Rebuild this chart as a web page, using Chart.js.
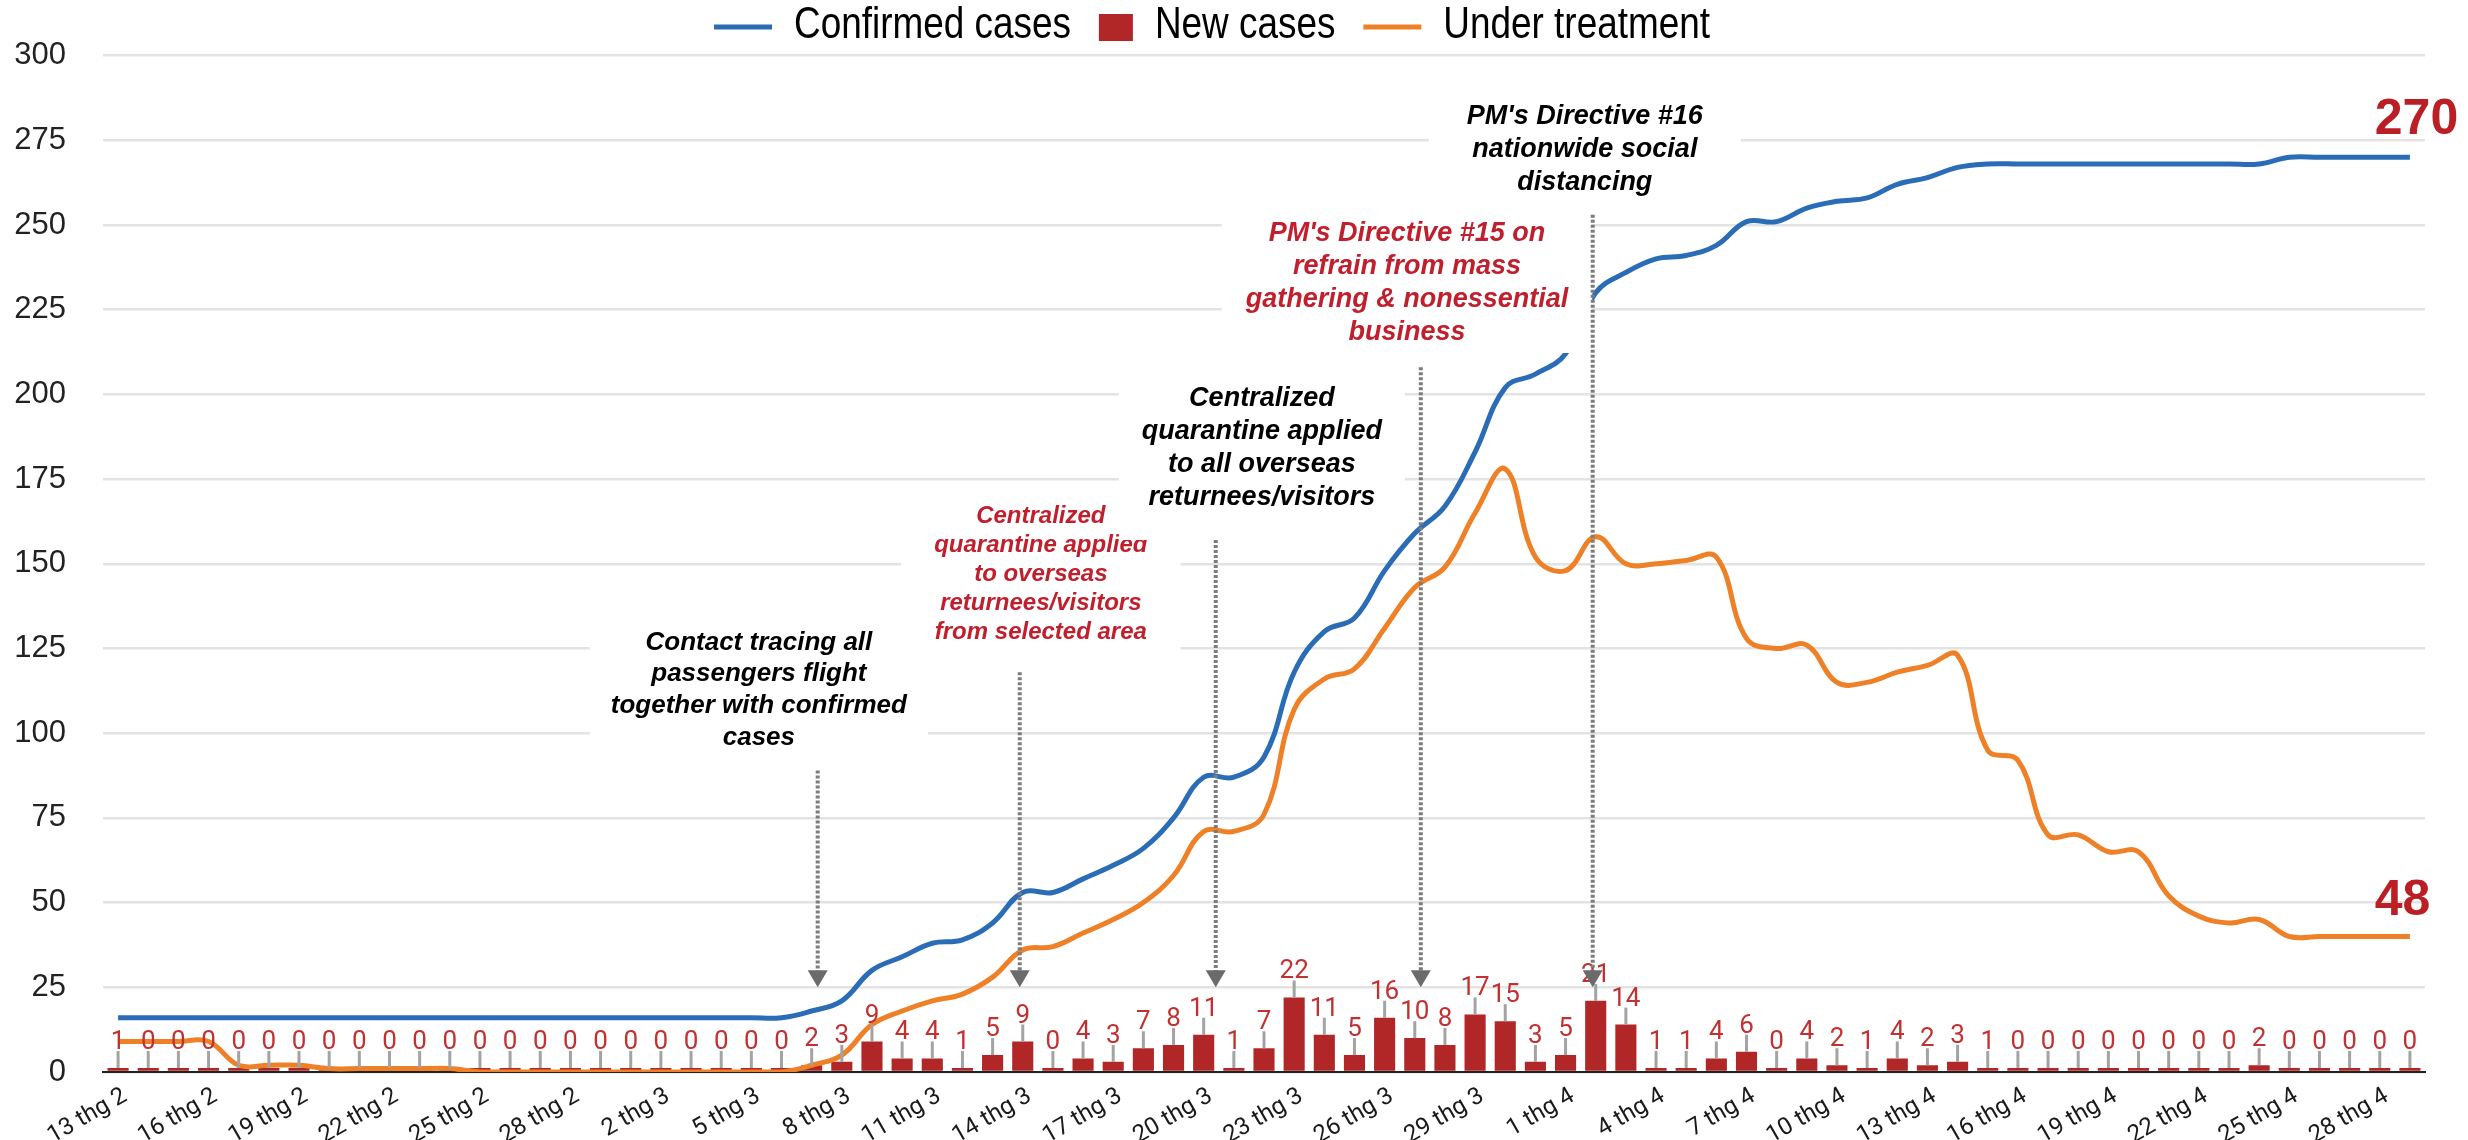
<!DOCTYPE html>
<html>
<head>
<meta charset="utf-8">
<script src="https://cdn.jsdelivr.net/npm/chart.js@4.4.1/dist/chart.umd.min.js"></script>
<style>
  html, body { margin: 0; padding: 0; background: #fff; }
</style>
</head>
<body>
<canvas id="myChart" width="2468" height="1140"></canvas>
<script>
// one entry per day, 13 Feb -> 29 Apr 2020
const days = [
  '13 thg 2', '14 thg 2', '15 thg 2', '16 thg 2', '17 thg 2', '18 thg 2', '19 thg 2', '20 thg 2', '21 thg 2',
  '22 thg 2', '23 thg 2', '24 thg 2', '25 thg 2', '26 thg 2', '27 thg 2', '28 thg 2', '29 thg 2',
  '1 thg 3', '2 thg 3', '3 thg 3', '4 thg 3', '5 thg 3', '6 thg 3', '7 thg 3', '8 thg 3', '9 thg 3', '10 thg 3',
  '11 thg 3', '12 thg 3', '13 thg 3', '14 thg 3', '15 thg 3', '16 thg 3', '17 thg 3', '18 thg 3', '19 thg 3',
  '20 thg 3', '21 thg 3', '22 thg 3', '23 thg 3', '24 thg 3', '25 thg 3', '26 thg 3', '27 thg 3', '28 thg 3',
  '29 thg 3', '30 thg 3', '31 thg 3',
  '1 thg 4', '2 thg 4', '3 thg 4', '4 thg 4', '5 thg 4', '6 thg 4', '7 thg 4', '8 thg 4', '9 thg 4', '10 thg 4',
  '11 thg 4', '12 thg 4', '13 thg 4', '14 thg 4', '15 thg 4', '16 thg 4', '17 thg 4', '18 thg 4', '19 thg 4',
  '20 thg 4', '21 thg 4', '22 thg 4', '23 thg 4', '24 thg 4', '25 thg 4', '26 thg 4', '27 thg 4', '28 thg 4',
  '29 thg 4',
]

const confirmed = [
  16, 16, 16, 16, 16, 16, 16, 16, 16, 16, 16, 16, 16, 16, 16, 16, 16,
  16, 16, 16, 16, 16, 16, 18, 21, 30, 34, 38, 39, 44, 53, 53, 57, 61, 66, 75, 87, 87, 93, 118, 130, 134,
  148, 159, 167, 183, 202, 206,
  212, 230, 236, 240, 241, 244, 251, 251, 255, 257, 258, 262, 264, 267, 268, 268, 268, 268, 268, 268,
  268, 268, 268, 268, 270, 270, 270, 270, 270,
]

const newCases = [
  1, 0, 0, 0, 0, 0, 0, 0, 0, 0, 0, 0, 0, 0, 0, 0, 0,
  0, 0, 0, 0, 0, 0, 2, 3, 9, 4, 4, 1, 5, 9, 0, 4, 3, 7, 8, 11, 1, 7, 22, 11, 5, 16, 10, 8, 17, 15, 3,
  5, 21, 14, 1, 1, 4, 6, 0, 4, 2, 1, 4, 2, 3, 1, 0, 0, 0, 0, 0, 0, 0, 0, 2, 0, 0, 0, 0, 0,
]

const treating = [
  9, 9, 9, 9, 2, 2, 2, 1, 1, 1, 1, 1, 0, 0, 0, 0, 0,
  0, 0, 0, 0, 0, 0, 2, 5, 14, 18, 21, 23, 28, 36, 37, 41, 45, 50, 58, 71, 71, 76, 107, 116, 119,
  131, 143, 149, 165, 178, 152,
  148, 158, 150, 150, 151, 152, 128, 125, 126, 115, 115, 118, 120, 123, 95, 92, 70, 70, 65, 65,
  52, 46, 44, 45, 40, 40, 40, 40, 40,
]

const yTicks = [0, 25, 50, 75, 100, 125, 150, 175, 200, 225, 250, 275, 300]

const BLUE = '#2b6cb6'
const RED = '#b12626'
const ORANGE = '#ee8128'
const TEXT_RED = '#c0202d'

// text notes: at = category index of the centre, y = value of the first line
const notes = [
  { at: 21.25, y: 126.8, lh: 31.7, size: 26, color: '#000', pad: [14, 21, 40, 21],
    lines: ['Contact tracing all', 'passengers flight', 'together with confirmed', 'cases'] },
  { at: 30.6, y: 164, lh: 29, size: 24, color: TEXT_RED, pad: [14, 33, 20, 33],
    lines: ['Centralized', 'quarantine applied', 'to overseas', 'returnees/visitors', 'from selected area'] },
  { at: 37.93, y: 198.8, lh: 33, size: 27, color: '#000', pad: [14, 23, 26, 23],
    lines: ['Centralized', 'quarantine applied', 'to all overseas', 'returnees/visitors'] },
  { at: 42.74, y: 247.5, lh: 33, size: 27, color: TEXT_RED, pad: [10, 24, 4, 24],
    lines: ["PM's Directive #15 on", 'refrain from mass', 'gathering & nonessential', 'business'] },
  { at: 48.64, y: 282, lh: 33, size: 27, color: '#000', pad: [12, 38, 6, 38],
    lines: ["PM's Directive #16", 'nationwide social', 'distancing'] },
]

// dotted arrows: from value -> to value at a category index
const arrows = [
  { at: 23.2, from: 89, to: 25 },
  { at: 29.9, from: 118, to: 25 },
  { at: 36.4, from: 157, to: 25 },
  { at: 43.2, from: 208, to: 25 },
  { at: 48.9, from: 253, to: 25 },
]

// narrow legend face if installed, otherwise squeeze the regular one
function legendFont(ctx) {
  ctx.font = '45px "Liberation Sans Narrow", monospace'
  const a = ctx.measureText('Confirmed cases').width
  ctx.font = '45px monospace'
  const b = ctx.measureText('Confirmed cases').width
  if (a !== b) return { font: '45px "Liberation Sans Narrow"', sx: 1 }
  return { font: '45px "Liberation Sans"', sx: 0.82 }
}

const extras = {
  id: 'extras',
  afterDatasetsDraw(chart) {
    const { ctx } = chart
    const x = chart.scales.x
    const y = chart.scales.y
    ctx.save()

    // grey leaders + value labels above the bars
    const meta = chart.getDatasetMeta(1)
    meta.data.forEach((bar, i) => {
      const top = Math.min(bar.y, bar.base)
      ctx.strokeStyle = '#a3a3a3'
      ctx.lineWidth = 3
      ctx.beginPath()
      ctx.moveTo(bar.x, top)
      ctx.lineTo(bar.x, top - 17)
      ctx.stroke()
      ctx.fillStyle = '#c13131'
      ctx.font = '26px Roboto'
      ctx.textAlign = 'center'
      ctx.textBaseline = 'alphabetic'
      ctx.fillText(String(newCases[i]), bar.x, top - 19)
    })

    // notes on white boxes
    notes.forEach(n => {
      ctx.font = 'italic bold ' + n.size + 'px "Liberation Sans"'
      const cx = x.getPixelForValue(n.at)
      const y0 = y.getPixelForValue(n.y)
      const w = Math.max(...n.lines.map(l => ctx.measureText(l).width))
      const top = y0 - n.lh / 2 - n.pad[0]
      const bottom = y0 + (n.lines.length - 1) * n.lh + n.lh / 2 + n.pad[2]
      ctx.fillStyle = '#fff'
      ctx.fillRect(cx - w / 2 - n.pad[3], top, w + n.pad[1] + n.pad[3], bottom - top)
      ctx.fillStyle = n.color
      ctx.textAlign = 'center'
      ctx.textBaseline = 'middle'
      n.lines.forEach((l, k) => ctx.fillText(l, cx, y0 + k * n.lh))
    })

    // dotted arrows
    arrows.forEach(a => {
      const px = x.getPixelForValue(a.at)
      const top = y.getPixelForValue(a.from)
      const tip = y.getPixelForValue(a.to)
      ctx.setLineDash([3, 2])
      ctx.lineWidth = 4
      ctx.strokeStyle = '#7c7c7c'
      ctx.beginPath()
      ctx.moveTo(px, top)
      ctx.lineTo(px, tip - 14)
      ctx.stroke()
      ctx.setLineDash([])
      ctx.fillStyle = '#6b6b6b'
      ctx.beginPath()
      ctx.moveTo(px - 10, tip - 17)
      ctx.lineTo(px + 10, tip - 17)
      ctx.lineTo(px, tip)
      ctx.closePath()
      ctx.fill()
    })

    // end values
    ctx.fillStyle = '#b91f25'
    ctx.font = 'bold 50px "Liberation Sans"'
    ctx.textAlign = 'left'
    ctx.textBaseline = 'middle'
    ctx.fillText(String(confirmed[confirmed.length - 1]), x.getPixelForValue(75) - 5, y.getPixelForValue(281))
    ctx.fillText('48', x.getPixelForValue(75) - 5, y.getPixelForValue(50.5))
    ctx.restore()
  },
  afterDraw(chart) {
    // legend row
    const { ctx } = chart
    const items = [
      { kind: 'line', color: BLUE, text: 'Confirmed cases' },
      { kind: 'box', color: RED, text: 'New cases' },
      { kind: 'line', color: ORANGE, text: 'Under treatment' },
    ]
    ctx.save()
    const lf = legendFont(ctx)
    ctx.font = lf.font
    ctx.textBaseline = 'middle'
    ctx.textAlign = 'left'
    const gap = 22
    const between = 28
    const mw = it => (it.kind === 'line' ? 58 : 34)
    const tw = t => ctx.measureText(t).width * lf.sx
    let total = 0
    items.forEach((it, i) => {
      total += mw(it) + gap + tw(it.text) + (i ? between : 0)
    })
    let px = chart.width / 2 - 22 - total / 2
    const cy = 26
    items.forEach(it => {
      if (it.kind === 'line') {
        ctx.strokeStyle = it.color
        ctx.lineWidth = 5
        ctx.beginPath()
        ctx.moveTo(px, cy + 1)
        ctx.lineTo(px + 58, cy + 1)
        ctx.stroke()
      } else {
        ctx.fillStyle = it.color
        ctx.fillRect(px, cy - 12, 34, 27)
      }
      px += mw(it) + gap
      ctx.fillStyle = '#000'
      ctx.save()
      ctx.translate(px, cy)
      ctx.scale(lf.sx, 1)
      ctx.fillText(it.text, 0, 0)
      ctx.restore()
      px += tw(it.text) + between
    })
    ctx.restore()
  },
}

let myChart = document.getElementById('myChart').getContext('2d')

let chart = new Chart(myChart, {
  type: 'bar',
  data: {
    labels: days,
    datasets: [
      {
        type: 'line',
        label: 'Confirmed cases',
        data: confirmed,
        borderColor: BLUE,
        borderWidth: 5,
        pointRadius: 0,
        tension: 0.4,
        order: 1,
      },
      {
        type: 'bar',
        label: 'New cases',
        data: newCases,
        backgroundColor: RED,
        barPercentage: 0.7,
        categoryPercentage: 1,
        minBarLength: 4,
        order: 3,
      },
      {
        type: 'line',
        label: 'Under treatment',
        data: treating,
        borderColor: ORANGE,
        borderWidth: 5,
        pointRadius: 0,
        tension: 0.4,
        order: 2,
      },
    ],
  },
  options: {
    responsive: false,
    animation: false,
    layout: { padding: { top: 55, right: 43, left: 0, bottom: 0 } },
    plugins: {
      legend: { display: false },
      tooltip: { enabled: false },
    },
    scales: {
      x: {
        grid: { display: false },
        border: { color: '#222', width: 2 },
        ticks: {
          autoSkip: false,
          minRotation: 30,
          maxRotation: 30,
          padding: 2,
          labelOffset: 7,
          color: '#1a1a1a',
          font: { family: 'Roboto', size: 24 },
          callback: function (v, i) {
            return i % 3 === 0 ? this.getLabelForValue(v) : null
          },
        },
        afterFit: s => { s.height = 68 },
      },
      y: {
        min: 0,
        max: 300,
        afterBuildTicks: s => { s.ticks = yTicks.map(v => ({ value: v })) },
        ticks: {
          padding: 37,
          color: '#222',
          font: { family: 'Liberation Sans', size: 31 },
        },
        grid: { color: '#e3e3e3', lineWidth: 2.5, drawTicks: false },
        border: { display: false },
        afterFit: s => { s.width = 103 },
      },
    },
  },
  plugins: [extras],
})
</script>
</body>
</html>
